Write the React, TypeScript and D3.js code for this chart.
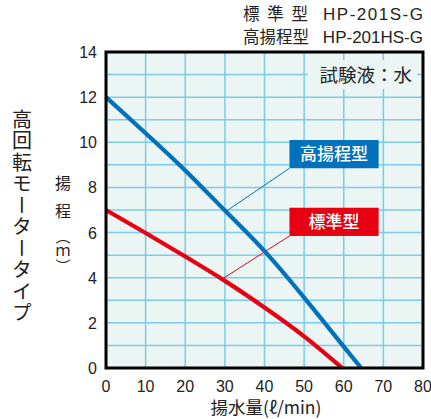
import React from 'react';
import { scaleLinear, line, curveNatural } from 'd3';

// flow (l/min) vs head (m)
const highHead: [number, number][] = [[0, 12], [10, 10.4], [20, 8.75], [30, 6.98], [40, 5.18], [50, 3.12], [60, 0.95], [64.4, 0]];
const standard: [number, number][] = [[0, 7], [10, 5.98], [20, 4.94], [30, 3.86], [40, 2.68], [50, 1.4], [59.6, 0]];
const xTicks = [0, 10, 20, 30, 40, 50, 60, 70, 80];
const yTicks = [0, 2, 4, 6, 8, 10, 12, 14];
const yGrid = [1, 2, 3, 4, 5, 6, 7, 8, 9, 10, 11, 12, 13];
const seriesLabels = ['高揚程型', '標準型'];
const leaderAt: [number, number][] = [[30.2, 6.93], [29.3, 3.94]];

const JP = '"Noto Sans CJK JP", "Noto Sans", sans-serif';
const LAT = '"Liberation Sans", Arial, sans-serif';
const BLUE = '#0071bb';
const RED = '#e60012';
const GRID = '#7ccbec';

const App = () => {
    const margin = { left: 106, right: 8, top: 52, bottom: 51 };
    const svgWidth = 431, svgHeight = 419;
    const x = scaleLinear().domain([0, 80]).range([margin.left, svgWidth - margin.right]);
    const y = scaleLinear().domain([0, 14]).range([svgHeight - margin.bottom, margin.top]);
    const linefunc = line<[number, number]>().x(d => x(d[0])).y(d => y(d[1])).curve(curveNatural);

    const colors = [BLUE, RED];
    const boxTop = [10.1, 7.1]; // label box top, in head units
    const boxX0 = x(46.3), boxX1 = x(68.8);
    const boxH = y(0) - y(1.25);

    return (
        <svg width={svgWidth} height={svgHeight} style={{ position: 'absolute', left: 0, top: 0 }}>
            {/* titles */}
            <text x={243} y={20} fontFamily={JP} fontSize={16.5} textLength={65} lengthAdjust='spacing' fill='#222'>標準型</text>
            <text x={323} y={20} fontFamily={LAT} fontSize={17} textLength={100} lengthAdjust='spacing' fill='#222'>HP-201S-G</text>
            <text x={243} y={43} fontFamily={JP} fontSize={16.5} fill='#222'>高揚程型</text>
            <text x={423} y={43} fontFamily={LAT} fontSize={17} textAnchor='end' fill='#222'>HP-201HS-G</text>

            {/* plot background and grid */}
            <rect x={x(0)} y={y(14)} width={x(80) - x(0)} height={y(0) - y(14)} fill='#ebf5f3' />
            {xTicks.slice(1, -1).map(t => (
                <line key={'vx' + t} x1={x(t)} x2={x(t)} y1={y(0)} y2={y(14)} stroke={GRID} strokeWidth={1.5} />
            ))}
            {yGrid.map(t => (
                <line key={'hy' + t} x1={x(0)} x2={x(80)} y1={y(t)} y2={y(t)} stroke={GRID} strokeWidth={1.5} />
            ))}

            {/* test liquid note */}
            <rect x={308} y={60} width={109} height={29} fill='#ebf5f3' />
            <text x={412} y={82} fontFamily={JP} fontSize={18.5} textAnchor='end' fill='#222'>試験液：水</text>

            {/* leader lines */}
            {leaderAt.map((p, i) => (
                <line key={'ld' + i} x1={x(p[0])} y1={y(p[1])} x2={boxX0} y2={y(boxTop[i]) + boxH}
                    stroke={colors[i]} strokeWidth={1} />
            ))}

            {/* curves */}
            <path d={linefunc(standard) || ''} fill='none' stroke={RED} strokeWidth={4.2} />
            <path d={linefunc(highHead) || ''} fill='none' stroke={BLUE} strokeWidth={4.2} />

            {/* label boxes */}
            {seriesLabels.map((s, i) => (
                <g key={s}>
                    <rect x={boxX0} y={y(boxTop[i])} width={boxX1 - boxX0} height={boxH} fill={colors[i]} />
                    <text x={(boxX0 + boxX1) / 2} y={y(boxTop[i]) + boxH / 2 + 6} textAnchor='middle'
                        fontFamily={JP} fontSize={17} fontWeight={500} fill='#fff'>{s}</text>
                </g>
            ))}

            {/* frame */}
            <rect x={x(0)} y={y(14)} width={x(80) - x(0)} height={y(0) - y(14)} fill='none' stroke='#000' strokeWidth={3} />

            {/* ticks */}
            {yTicks.map(t => (
                <text key={'yt' + t} x={97} y={y(t) + 6} textAnchor='end' fontFamily={LAT} fontSize={16} fill='#222'>{t}</text>
            ))}
            {xTicks.map(t => (
                <text key={'xt' + t} x={x(t)} y={392} textAnchor='middle' fontFamily={LAT} fontSize={16} fill='#222'>{t}</text>
            ))}

            {/* axis titles */}
            <text x={266} y={414} textAnchor='middle' fontFamily={JP} fontSize={17.5} fill='#222'>揚水量(ℓ/min)</text>
            <text x={63} y={189} textAnchor='middle' fontFamily={JP} fontSize={16} fill='#222'>揚</text>
            <text x={63} y={217} textAnchor='middle' fontFamily={JP} fontSize={16} fill='#222'>程</text>
            <text x={63} y={229} fontFamily={JP} fontSize={15} fill='#222' style={{ writingMode: 'vertical-rl' }}>（ｍ）</text>
            <text x={22} y={109} fontFamily={JP} fontSize={20} letterSpacing={1.5} fill='#222' style={{ writingMode: 'vertical-rl' }}>高回転モータータイプ</text>
        </svg>
    );
};

export default App;
